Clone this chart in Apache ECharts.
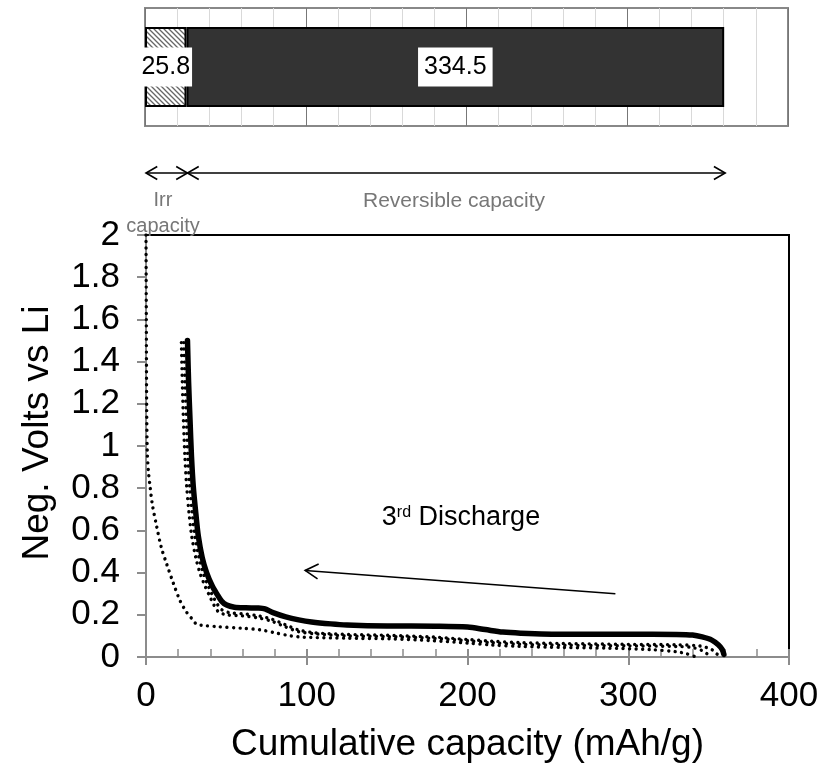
<!DOCTYPE html>
<html><head><meta charset="utf-8">
<script src="https://cdn.jsdelivr.net/npm/echarts@6/dist/echarts.min.js"></script>
<style>html,body{margin:0;padding:0;background:#fff}#c{width:833px;height:774px}</style>
</head><body><div id="c"></div>
<script>
// ---- data ----
const barCategories = ['Capacity'];
const irrCapacity = [25.8];
const revCapacity = [334.5];
const xTickValues = [0, 100, 200, 300, 400];
const yTickValues = [0, 0.2, 0.4, 0.6, 0.8, 1, 1.2, 1.4, 1.6, 1.8, 2];
const spanArrows = [[0, 25.8], [25.8, 360.3]];
const dischargeArrow = [[292, 0.30, 99, 0.41]];
const solidCurve = [[25.8,1.50],[26.5,1.30],[27.4,1.12],[28.3,0.95],[29.4,0.81],[31,0.68],[32.6,0.57],[35,0.47],[37.7,0.40],[41,0.34],[44,0.30],[47,0.265],[50.2,0.246],[55,0.236],[62,0.233],[70,0.232],[74,0.228],[79,0.21],[87,0.19],[95,0.176],[103,0.166],[115,0.157],[125,0.152],[150,0.147],[180,0.146],[200,0.142],[211,0.13],[222,0.118],[233,0.113],[260,0.108],[300,0.108],[330,0.107],[340,0.104],[346,0.095],[352,0.08],[356,0.058],[358.5,0.035],[359.5,0.012]];
const dottedA = [[23.5,1.49],[24.3,1.3],[25.2,1.12],[26,0.95],[27.2,0.81],[28.8,0.68],[30.5,0.57],[33,0.47],[35.5,0.40],[38.5,0.34],[41.5,0.29],[44,0.255],[47,0.225],[52,0.21],[60,0.205],[70,0.195],[78,0.18],[86,0.155],[95,0.128],[105,0.115],[125,0.107],[150,0.103],[180,0.094],[200,0.083],[215,0.075],[233,0.068],[260,0.064],[300,0.06],[330,0.058],[345,0.052],[352,0.035],[355,0.015],[357,0.005]];
const dottedB = [[22,1.49],[22.6,1.3],[23.3,1.12],[24.2,0.95],[25.3,0.81],[26.8,0.68],[28.5,0.57],[31,0.47],[33.5,0.40],[36.5,0.34],[39.5,0.29],[42,0.25],[45,0.215],[50,0.2],[60,0.195],[70,0.185],[78,0.17],[86,0.145],[95,0.12],[105,0.11],[125,0.1],[150,0.097],[180,0.088],[200,0.077],[215,0.068],[233,0.06],[260,0.056],[300,0.053],[330,0.05],[340,0.045],[346,0.03],[350,0.01],[352,0.0]];
const dottedC = [[0,2.0],[0.2,1.6],[0.4,1.2],[0.8,0.97],[1.5,0.88],[2.5,0.81],[4,0.72],[6.6,0.62],[9.5,0.52],[12.9,0.44],[17,0.35],[21,0.27],[25,0.215],[28.4,0.183],[31.5,0.155],[35,0.15],[44,0.144],[60,0.136],[71,0.129],[80,0.115],[90,0.1],[98,0.094],[125,0.089],[152,0.086],[179,0.077],[200,0.066],[215,0.057],[233,0.05],[260,0.045],[287,0.042],[314,0.035],[330,0.025],[336,0.016],[341,0.003]];

const FONT = 'Liberation Sans, Arial, sans-serif';

function hatchCanvas() {
  const c = document.createElement('canvas'); c.width = 5; c.height = 5;
  const g = c.getContext('2d');
  g.fillStyle = '#fff'; g.fillRect(0, 0, 5, 5);
  g.strokeStyle = '#666'; g.lineWidth = 1.3;
  g.beginPath();
  g.moveTo(-1, -1); g.lineTo(6, 6);
  g.moveTo(-1, 4); g.lineTo(1, 6);
  g.moveTo(4, -1); g.lineTo(6, 1);
  g.stroke();
  return c;
}

function chevron(tip, dx, dy, len) {
  const ang = Math.PI / 6;
  const c = Math.cos(ang), s = Math.sin(ang);
  const p1 = [tip[0] + len * (dx * c - dy * s), tip[1] + len * (dx * s + dy * c)];
  const p2 = [tip[0] + len * (dx * c + dy * s), tip[1] + len * (-dx * s + dy * c)];
  return { type: 'polyline', shape: { points: [p1, tip, p2] }, style: { stroke: '#000', lineWidth: 1.6, fill: null } };
}

const chart = echarts.init(document.getElementById('c'));
const dotStyle = { color: '#000', width: 3.4, type: [0.01, 6.5], cap: 'round' };

chart.setOption({
  animation: false,
  backgroundColor: '#fff',
  grid: [
    { left: 145, top: 8, width: 643, height: 118, show: true, borderColor: '#888', borderWidth: 2, backgroundColor: '#fff' },
    { left: 146, top: 235, width: 643, height: 422, show: true, borderColor: '#000', borderWidth: 2 },
    { left: 146, top: 150, width: 643, height: 46 }
  ],
  xAxis: [
    { gridIndex: 0, type: 'value', min: 0, max: 400, interval: 100,
      axisLabel: { show: false }, axisLine: { show: false }, axisTick: { show: false },
      splitLine: { show: true, lineStyle: { color: '#777', width: 1 } },
      minorTick: { show: false, splitNumber: 5 },
      minorSplitLine: { show: true, lineStyle: { color: '#d9d9d9', width: 1 } } },
    { gridIndex: 1, type: 'value', min: 0, max: 400, interval: 100, position: 'bottom',
      name: 'Cumulative capacity (mAh/g)', nameLocation: 'middle', nameGap: 69,
      nameTextStyle: { fontFamily: FONT, fontSize: 37, color: '#000' },
      axisLine: { show: true, lineStyle: { color: '#8c8c8c', width: 2 } },
      axisTick: { show: true, length: 8, lineStyle: { color: '#8c8c8c', width: 2 } },
      axisLabel: { fontFamily: FONT, fontSize: 35, color: '#000', margin: 22,
        formatter: v => xTickValues.includes(v) ? String(v) : '' },
      splitLine: { show: false } },
    { gridIndex: 1, type: 'value', min: 0, max: 400, interval: 100, position: 'bottom',
      axisLine: { show: false }, axisLabel: { show: false }, splitLine: { show: false },
      axisTick: { show: true, inside: true, length: 8, lineStyle: { color: '#8c8c8c', width: 2 } },
      minorTick: { show: true, splitNumber: 5, length: 8, lineStyle: { color: '#8c8c8c', width: 1.5 } } },
    { gridIndex: 2, type: 'value', min: 0, max: 400, show: false }
  ],
  yAxis: [
    { gridIndex: 0, type: 'category', data: barCategories, show: false },
    { gridIndex: 1, type: 'value', min: 0, max: 2, interval: 0.2,
      name: 'Neg. Volts vs Li', nameLocation: 'middle', nameGap: 90,
      nameTextStyle: { fontFamily: FONT, fontSize: 37, color: '#000', padding: [0, 0, 0, 26] },
      axisLine: { show: true, lineStyle: { color: '#8c8c8c', width: 2 } },
      axisTick: { show: true, length: 9, lineStyle: { color: '#8c8c8c', width: 2 } },
      axisLabel: { fontFamily: FONT, fontSize: 35, color: '#000', margin: 26,
        formatter: v => { const t = yTickValues.find(y => Math.abs(y - v) < 1e-6); return t === undefined ? '' : String(t); } },
      splitLine: { show: false } },
    { gridIndex: 2, type: 'value', min: 0, max: 1, show: false }
  ],
  graphic: [
    { type: 'text', x: 163, y: 200, style: { text: 'Irr', fill: '#777', font: '20px ' + FONT, align: 'center', verticalAlign: 'middle' } },
    { type: 'text', x: 163, y: 226, style: { text: 'capacity', fill: '#777', font: '20px ' + FONT, align: 'center', verticalAlign: 'middle' } },
    { type: 'text', x: 454, y: 201, style: { text: 'Reversible capacity', fill: '#777', font: '21px ' + FONT, align: 'center', verticalAlign: 'middle' } },
    { type: 'text', x: 461, y: 518, style: {
        text: '{n|3}{s|rd}{n| Discharge}', align: 'center', verticalAlign: 'middle',
        rich: { n: { fontFamily: FONT, fontSize: 27, fill: '#000', color: '#000' },
                s: { fontFamily: FONT, fontSize: 16, fill: '#000', color: '#000', verticalAlign: 'top' } } } }
  ],
  series: [
    { type: 'bar', name: 'Irr', stack: 'cap', xAxisIndex: 0, yAxisIndex: 0, data: irrCapacity, barWidth: 80,
      itemStyle: { color: { image: hatchCanvas(), repeat: 'repeat' }, borderColor: '#000', borderWidth: 2 },
      label: { show: true, position: 'inside', formatter: p => p.value.toFixed(1), backgroundColor: '#fff', color: '#000',
        fontFamily: FONT, fontSize: 25, padding: [7, 2] } },
    { type: 'bar', name: 'Rev', stack: 'cap', xAxisIndex: 0, yAxisIndex: 0, data: revCapacity, barWidth: 80,
      itemStyle: { color: '#333333', borderColor: '#000', borderWidth: 2 },
      label: { show: true, position: 'inside', formatter: p => p.value.toFixed(1), backgroundColor: '#fff', color: '#000',
        fontFamily: FONT, fontSize: 25, padding: [7, 6] } },
    { type: 'line', xAxisIndex: 1, yAxisIndex: 1, data: dottedC, showSymbol: false, smooth: 0.3, lineStyle: dotStyle, z: 3 },
    { type: 'line', xAxisIndex: 1, yAxisIndex: 1, data: dottedB, showSymbol: false, smooth: 0.3, lineStyle: dotStyle, z: 3 },
    { type: 'line', xAxisIndex: 1, yAxisIndex: 1, data: dottedA, showSymbol: false, smooth: 0.3, lineStyle: dotStyle, z: 3 },
    { type: 'line', xAxisIndex: 1, yAxisIndex: 1, data: solidCurve, showSymbol: false, smooth: 0.3,
      lineStyle: { color: '#000', width: 5.5, cap: 'round', join: 'round' }, z: 4 },
    { type: 'custom', xAxisIndex: 3, yAxisIndex: 2, data: spanArrows, silent: true,
      renderItem: (params, api) => {
        const a = api.coord([api.value(0), 0.5]);
        const b = api.coord([api.value(1), 0.5]);
        return { type: 'group', children: [
          { type: 'line', shape: { x1: a[0], y1: a[1], x2: b[0], y2: b[1] }, style: { stroke: '#000', lineWidth: 1.6 } },
          chevron(a, 1, 0, 13), chevron(b, -1, 0, 13) ] };
      } },
    { type: 'custom', xAxisIndex: 1, yAxisIndex: 1, data: dischargeArrow, silent: true,
      renderItem: (params, api) => {
        const a = api.coord([api.value(0), api.value(1)]);
        const b = api.coord([api.value(2), api.value(3)]);
        const L = Math.hypot(a[0] - b[0], a[1] - b[1]);
        const ux = (a[0] - b[0]) / L, uy = (a[1] - b[1]) / L;
        return { type: 'group', children: [
          { type: 'line', shape: { x1: a[0], y1: a[1], x2: b[0], y2: b[1] }, style: { stroke: '#000', lineWidth: 1.6 } },
          chevron(b, ux, uy, 15) ] };
      } }
  ]
});
</script></body></html>
